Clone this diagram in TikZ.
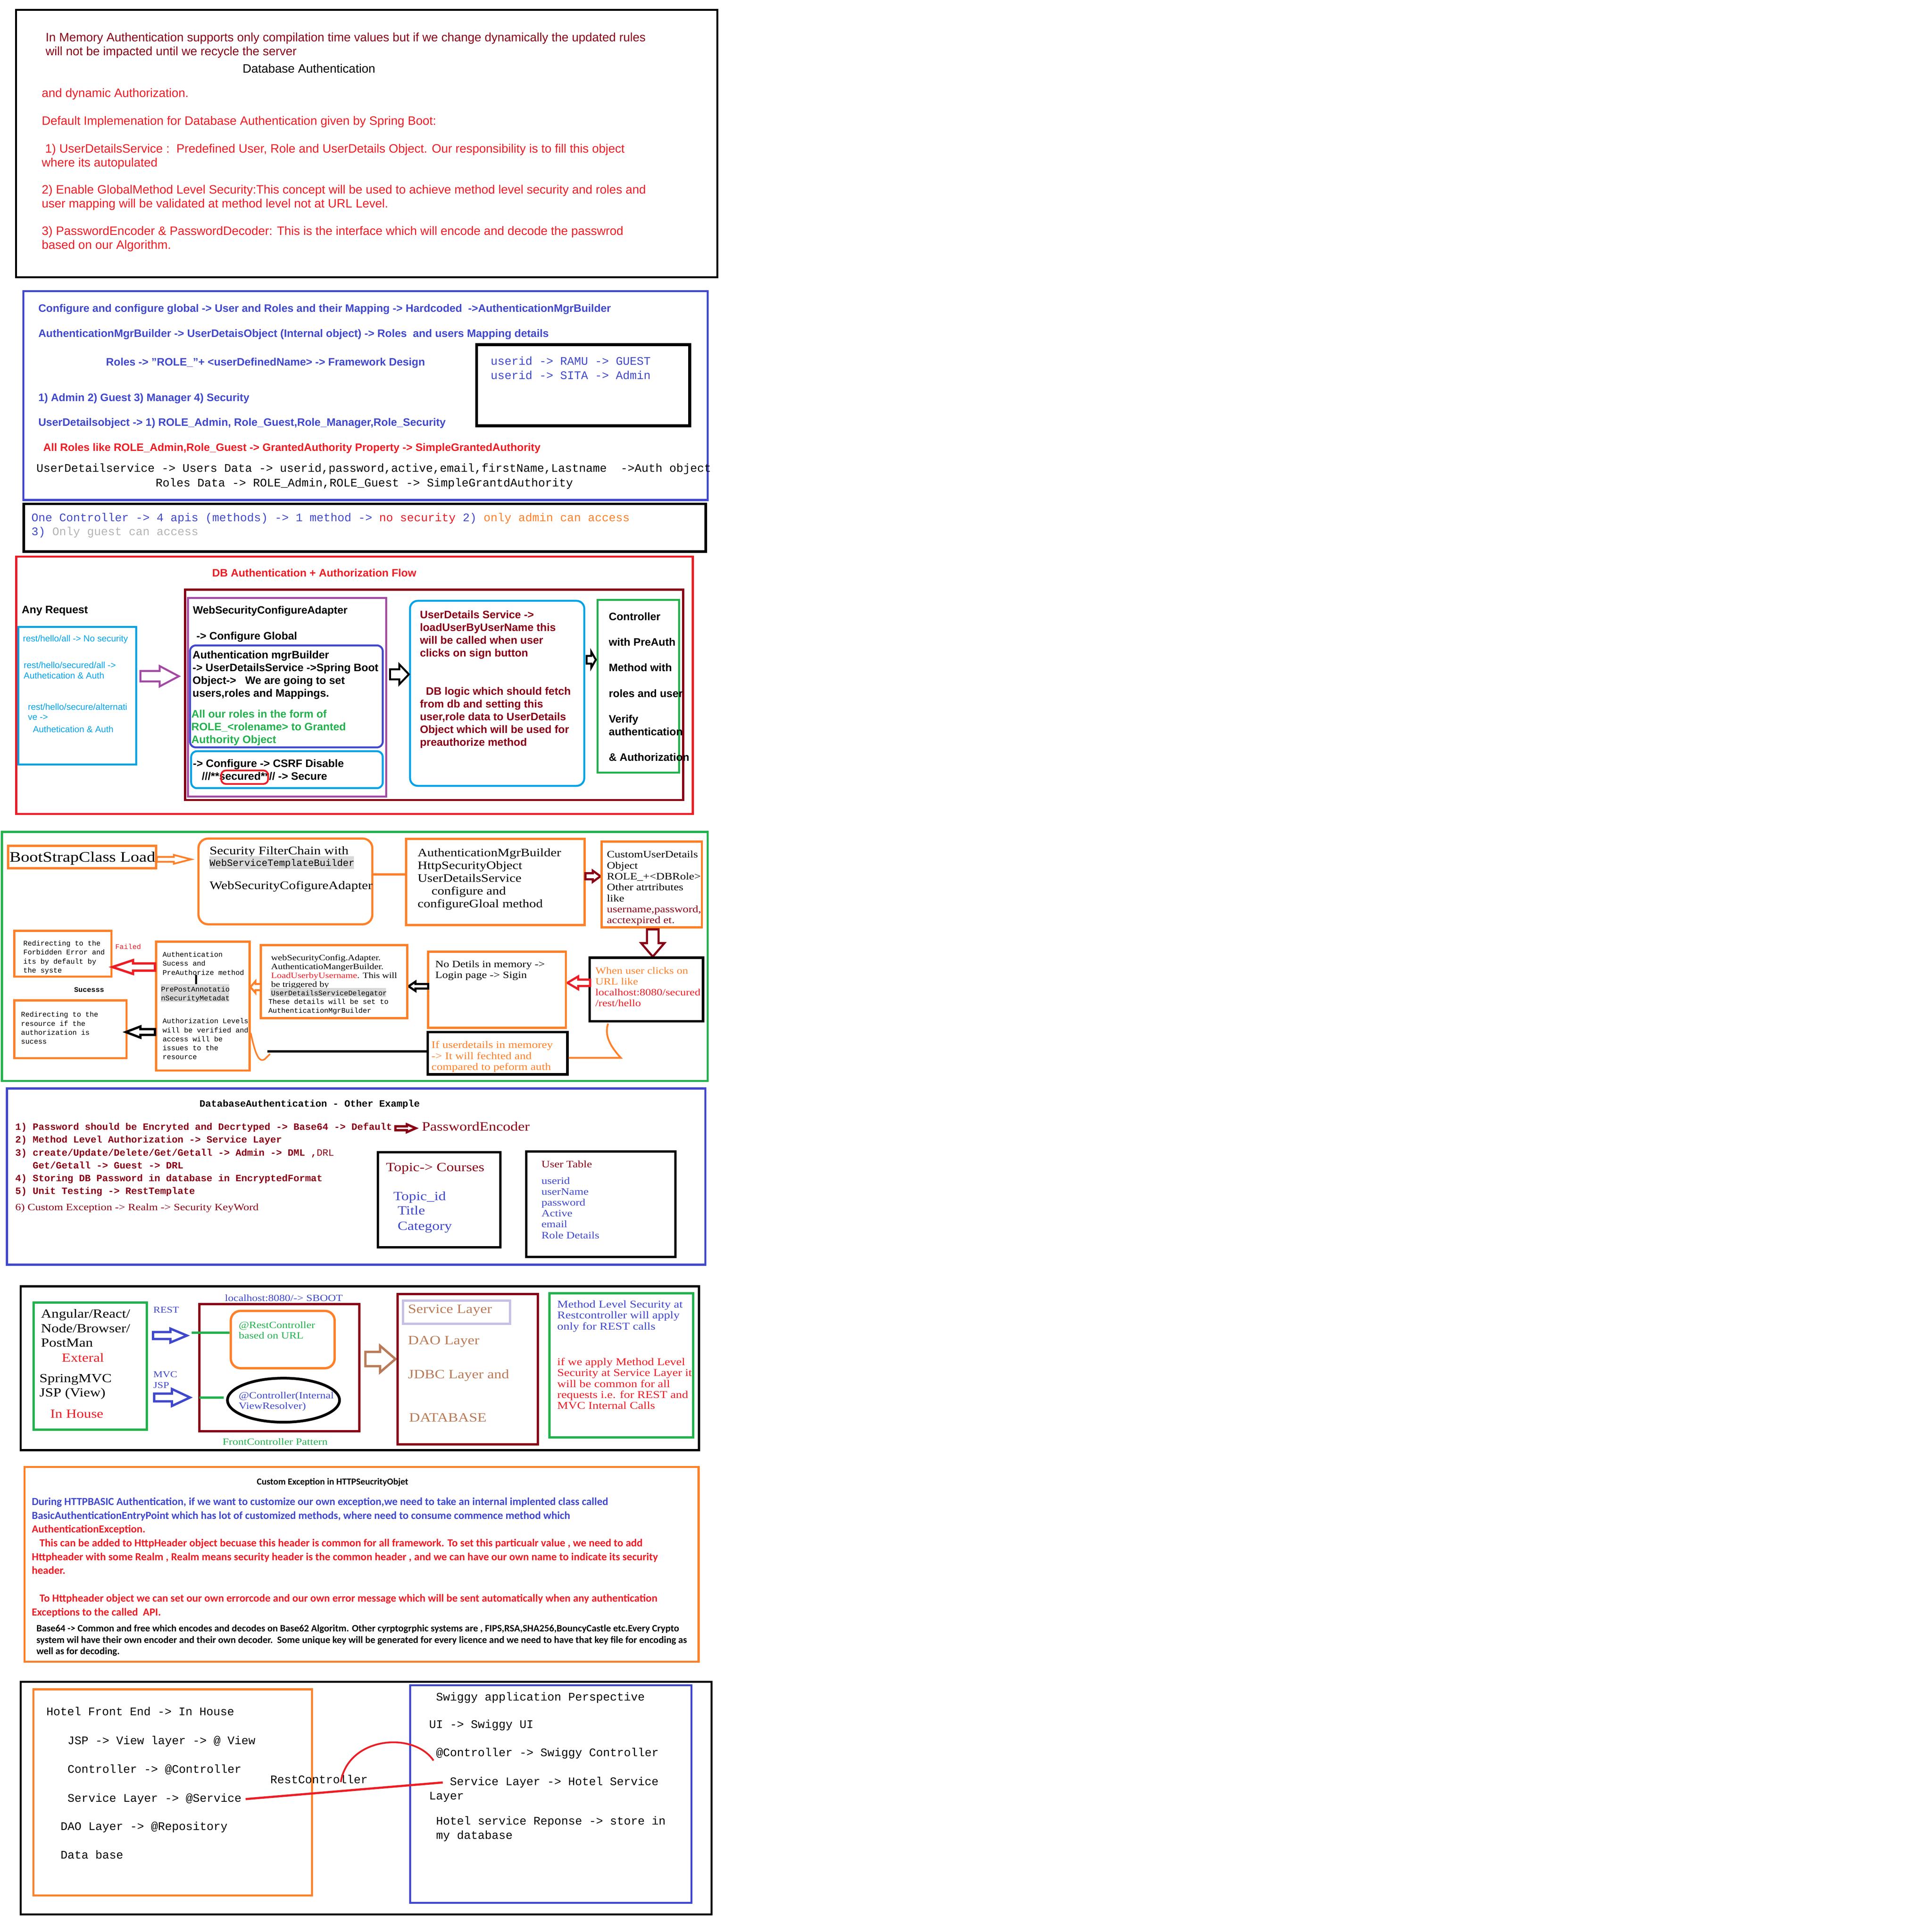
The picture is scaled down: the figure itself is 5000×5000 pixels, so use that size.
\documentclass[tikz,border=0pt]{standalone}
\usepackage{fontspec}
\setmainfont{Liberation Serif}
\setsansfont{Liberation Sans}
\setmonofont{Liberation Mono}
\newfontfamily\srf{Liberation Serif}[FakeStretch=1.18]
\newfontfamily\carl{Carlito}
\usetikzlibrary{fit,shapes.geometric}
\definecolor{cred}{HTML}{ED1C24}
\definecolor{cdred}{HTML}{880015}
\definecolor{cblue}{HTML}{3F48CC}
\definecolor{ccyan}{HTML}{00A2E8}
\definecolor{cgreen}{HTML}{22B14C}
\definecolor{corange}{HTML}{FF7F27}
\definecolor{cpurple}{HTML}{A349A4}
\definecolor{cbrown}{HTML}{B97A57}
\definecolor{clav}{HTML}{C8BFE7}
\definecolor{cgray}{HTML}{B4B4B4}
\definecolor{chl}{HTML}{D9D9D9}
\newcommand\fpx[2]{\fontsize{\fpeval{#1*0.28453}pt}{\fpeval{#2*0.28453}pt}\selectfont\lineskiplimit=-100pt\relax}
\newcommand\mytext[9][]{\node[anchor=north west,align=left,inner sep=0pt,text=#7,font={#8\fpx{#5}{#6}},#1] (#2) at ({#3},{#4+0.32*#5-0.7*#6}) {\strut#9};}
\newcommand\harrow[7][]{\draw[#1] ({#2},{#5-#6}) -- ({#3},{#5-#6}) -- ({#3},{#5-#7}) -- ({#4},{#5}) -- ({#3},{#5+#7}) -- ({#3},{#5+#6}) -- ({#2},{#5+#6}) -- cycle;}
\newcommand\varrow[7][]{\draw[#1] ({#5-#6},{#2}) -- ({#5-#6},{#3}) -- ({#5-#7},{#3}) -- ({#5},{#4}) -- ({#5+#7},{#3}) -- ({#5+#6},{#3}) -- ({#5+#6},{#2}) -- cycle;}
\newcommand\boxat[4][]{\node[fit={#3 #4},inner sep=0pt,#1] (#2) {};}
\begin{document}
\begin{tikzpicture}[x=0.1mm,y=-0.1mm]
\fill[white] (0,0) rectangle (5000,5000);
\begin{scope}[scale=0.9955]
% ===== Section A
\boxat[draw=black,line width=0.5mm]{boxA}{(42,26)}{(1865,721)}
\mytext{a1}{118}{97}{31.5}{36}{cdred}{\sffamily}{In Memory Authentication supports only compilation time values but if we change dynamically the updated rules\\will not be impacted until we recycle the server}
\mytext{a2}{630}{178}{31.5}{36}{black}{\sffamily}{Database Authentication}
\mytext{a3}{108}{242}{31.5}{36}{cred}{\sffamily}{and dynamic Authorization.}
\mytext{a4}{108}{314}{31.5}{36}{cred}{\sffamily}{Default Implemenation for Database Authentication given by Spring Boot:}
\mytext{a5}{108}{386}{31.5}{36}{cred}{\sffamily}{\ 1) UserDetailsService :\ \ Predefined User, Role and UserDetails Object. Our responsibility is to fill this object\\where its autopulated}
\mytext{a6}{108}{493}{31.5}{36}{cred}{\sffamily}{2) Enable GlobalMethod Level Security:This concept will be used to achieve method level security and roles and\\user mapping will be validated at method level not at URL Level.}
\mytext{a7}{108}{600}{31.5}{36}{cred}{\sffamily}{3) PasswordEncoder \& PasswordDecoder: This is the interface which will encode and decode the passwrod\\based on our Algorithm.}
% ===== Section B
\boxat[draw=cblue,line width=0.55mm]{boxB}{(61,757)}{(1840,1300)}
\begin{scope}[yshift=-0.3mm]
\boxat[draw=black,line width=0.75mm]{boxBtwo}{(1239,893)}{(1793,1104)}
\mytext{b1}{99}{798}{28}{33}{cblue}{\sffamily\bfseries}{Configure and configure global -> User and Roles and their Mapping -> Hardcoded\ \ ->AuthenticationMgrBuilder}
\mytext{b2}{99}{864}{28}{33}{cblue}{\sffamily\bfseries}{AuthenticationMgrBuilder -> UserDetaisObject (Internal object) -> Roles\ \ and users Mapping details}
\mytext{b3}{275}{938}{28}{33}{cblue}{\sffamily\bfseries}{Roles -> "ROLE\_"+ <userDefinedName> -> Framework Design}
\mytext{b4}{99}{1030}{28}{33}{cblue}{\sffamily\bfseries}{1) Admin 2) Guest 3) Manager 4) Security}
\mytext{b5}{99}{1095}{28}{33}{cblue}{\sffamily\bfseries}{UserDetailsobject -> 1) ROLE\_Admin, Role\_Guest,Role\_Manager,Role\_Security}
\mytext{b6}{112}{1160}{28}{33}{cred}{\sffamily\bfseries}{All Roles like ROLE\_Admin,Role\_Guest -> GrantedAuthority Property -> SimpleGrantedAuthority}
\mytext{b7}{94}{1214}{30}{37}{black}{\ttfamily}{UserDetailservice -> Users Data -> userid,password,active,email,firstName,Lastname\ \ ->Auth object}
\mytext{b8}{404}{1252}{30}{37}{black}{\ttfamily}{Roles Data -> ROLE\_Admin,ROLE\_Guest -> SimpleGrantdAuthority}
\mytext{b9}{1275}{935}{30}{37}{cblue}{\ttfamily}{userid -> RAMU -> GUEST\\userid -> SITA -> Admin}
\end{scope}
% ===== Section C
\boxat[draw=black,line width=0.65mm]{boxC}{(62,1310)}{(1835,1434)}
\mytext{c1}{81}{1345}{30}{36}{cblue}{\ttfamily}{One Controller -> 4 apis (methods) -> 1 method -> \textcolor{cred}{no security} 2) \textcolor{corange}{only admin can access}\\3) \textcolor{cgray}{Only guest can access}}
% ===== Section D
\boxat[draw=cred,line width=0.55mm]{boxD}{(42,1447)}{(1801,2116)}
\begin{scope}[yshift=-0.6mm]
\boxat[draw=cdred,line width=0.55mm]{boxDtwo}{(481,1527)}{(1776,2074)}
\boxat[draw=cpurple,line width=0.5mm]{boxDthree}{(489,1549)}{(1004,2065)}
\boxat[draw=ccyan,line width=0.5mm]{boxDfour}{(48,1624)}{(354,1981)}
\boxat[draw=cblue,line width=0.5mm,rounded corners=1.5mm]{boxDfive}{(494,1672)}{(995,1937)}
\boxat[draw=ccyan,line width=0.5mm,rounded corners=1.5mm]{boxDsix}{(497,1947)}{(995,2043)}
\boxat[draw=ccyan,line width=0.5mm,rounded corners=2mm]{boxDseven}{(1066,1556)}{(1519,2037)}
\boxat[draw=cgreen,line width=0.5mm]{boxDeight}{(1554,1554)}{(1765,2003)}
\mytext{d1}{551}{1483}{28}{33}{cred}{\sffamily\bfseries}{DB Authentication + Authorization Flow}
\mytext{d2}{56}{1579}{28}{33}{black}{\sffamily\bfseries}{Any Request}
\mytext{d3}{59}{1654}{23}{27}{ccyan}{\sffamily}{rest/hello/all -> No security}
\mytext{d4}{61}{1723}{23}{27}{ccyan}{\sffamily}{rest/hello/secured/all ->\\Authetication \& Auth}
\mytext{d5}{72}{1832}{23}{26}{ccyan}{\sffamily}{rest/hello/secure/alternati\\ve ->}
\mytext{d6}{85}{1890}{23}{27}{ccyan}{\sffamily}{Authetication \& Auth}
\mytext{d7}{501}{1580}{27.5}{33}{black}{\sffamily\bfseries}{WebSecurityConfigureAdapter}
\mytext{d8}{510}{1647}{28}{33}{black}{\sffamily\bfseries}{-> Configure Global}
\mytext{d9}{500}{1696}{28}{33.3}{black}{\sffamily\bfseries}{Authentication mgrBuilder\\-> UserDetailsService ->Spring Boot\\Object->\ \ \ We are going to set\\users,roles and Mappings.}
\mytext{d10}{497}{1850}{28}{33}{cgreen}{\sffamily\bfseries}{All our roles in the form of\\ROLE\_<rolename> to Granted\\Authority Object}
\mytext{d11}{501}{1979}{28}{33}{black}{\sffamily\bfseries}{-> Configure -> CSRF Disable}
\mytext{d12}{524}{2012}{28}{33}{black}{\sffamily\bfseries}{///**secured**// -> Secure}
\boxat[draw=cred,line width=0.45mm,rounded corners=1.2mm]{boxDnine}{(575,1997)}{(697,2032)}
\mytext{d13}{1091}{1592}{28}{33}{cdred}{\sffamily\bfseries}{UserDetails Service ->\\loadUserByUserName this\\will be called when user\\clicks on sign button}
\mytext{d14}{1091}{1791}{28}{33}{cdred}{\sffamily\bfseries}{\ \ DB logic which should fetch\\from db and setting this\\user,role data to UserDetails\\Object which will be used for\\preauthorize method}
\mytext{d15}{1582}{1597}{28}{33.2}{black}{\sffamily\bfseries}{Controller\\[3.3mm]with PreAuth\\[3.3mm]Method with\\[3.3mm]roles and user\\[3.3mm]Verify\\authentication\\[3.3mm]\& Authorization}
\harrow[draw=cpurple,line width=0.5mm,fill=white]{365}{415}{465}{1752}{13.5}{26.5}
\harrow[draw=black,line width=0.5mm,fill=white]{1014}{1038}{1063}{1747}{13}{26}
\harrow[draw=black,line width=0.5mm,fill=white]{1525}{1537}{1549}{1709}{10}{21}
\end{scope}
% ===== Section E
\boxat[draw=cgreen,line width=0.55mm]{boxE}{(5,2163)}{(1840,2810)}
\begin{scope}[yshift=-1mm]
\boxat[draw=corange,line width=0.55mm]{bsb}{(21,2189)}{(406,2247)}
\mytext{e1}{24}{2218}{37.5}{45}{black}{\srf}{BootStrapClass Load}
\harrow[draw=corange,line width=0.45mm,fill=white]{408}{452}{497}{2224}{6.5}{11.5}
\boxat[draw=corange,line width=0.55mm,rounded corners=2.5mm]{fc}{(516,2170)}{(968,2393)}
\mytext{e2}{544}{2201}{30}{36}{black}{\srf}{Security FilterChain with}
\boxat[fill=chl]{hlone}{(544,2216)}{(920,2249)}
\mytext{e3}{544}{2233}{25}{30}{black}{\ttfamily}{WebServiceTemplateBuilder}
\mytext{e4}{544}{2291}{30}{36}{black}{\srf}{WebSecurityCofigureAdapter}
\boxat[draw=corange,line width=0.55mm]{amb}{(1056,2171)}{(1520,2395)}
\draw[corange,line width=0.55mm] (fc.east |- 0,2263) -- (amb.west |- 0,2263);
\mytext{e5}{1085}{2206}{29.5}{33}{black}{\srf}{AuthenticationMgrBuilder\\HttpSecurityObject\\UserDetailsService\\\hspace*{3.6mm}configure and\\configureGloal method}
\harrow[draw=cdred,line width=0.55mm,fill=white]{1522}{1541}{1561}{2268}{8}{14.5}
\boxat[draw=corange,line width=0.55mm]{cud}{(1564,2178)}{(1825,2401)}
\mytext{e6}{1577}{2211}{25.5}{28.3}{black}{\srf}{CustomUserDetails\\Object\\ROLE\_+<DBRole>\\Other atrtributes\\like\\\textcolor{cdred}{username,password,}\\\textcolor{cdred}{acctexpired et.}}
\varrow[draw=cdred,line width=0.55mm,fill=white]{2406}{2442}{2477}{1697}{15}{30}
\boxat[draw=black,line width=0.65mm]{wu}{(1533,2480)}{(1828,2645)}
\mytext{e7}{1547}{2513}{25}{28}{corange}{\srf}{When user clicks on\\URL like\\\textcolor{cred}{localhost:8080/secured}\\\textcolor{cred}{/rest/hello}}
\harrow[draw=cred,line width=0.55mm,fill=white]{1534}{1503}{1475}{2545}{8.5}{16.5}
\boxat[draw=corange,line width=0.55mm]{nd}{(1113,2464)}{(1471,2662)}
\mytext{e8}{1131}{2496}{25}{28}{black}{\srf}{No Detils in memory ->\\Login page -> Sigin}
\harrow[draw=black,line width=0.55mm,fill=white]{1113}{1080}{1062}{2554}{6}{12}
\boxat[draw=corange,line width=0.55mm]{ws}{(678,2447)}{(1059,2637)}
\mytext{e9}{704}{2479}{21}{23}{black}{\srf}{webSecurityConfig.Adapter.\\AuthenticatioMangerBuilder.\\\textcolor{cred}{LoadUserbyUsername}. This will\\be triggered by}
\boxat[fill=chl]{hltwo}{(703,2559)}{(1004,2582)}
\mytext{e10}{704}{2571}{18.5}{23}{black}{\ttfamily}{UserDetailsServiceDelegator}
\mytext{e11}{697}{2594}{18.5}{23}{black}{\ttfamily}{These details will be set to\\AuthenticationMgrBuilder}
\harrow[draw=corange,line width=0.5mm,fill=white]{678}{664}{651}{2556}{8}{15}
\boxat[draw=corange,line width=0.55mm]{au}{(406,2438)}{(649,2773)}
\mytext{e12}{422}{2471}{18.5}{23.3}{black}{\ttfamily}{Authentication\\Sucess and\\PreAuthorize method}
\boxat[fill=chl]{hlthree}{(418,2549)}{(596,2595)}
\mytext{e13}{418}{2561}{18.5}{23.3}{black}{\ttfamily}{PrePostAnnotatio\\nSecurityMetadat}
\mytext{e14}{422}{2644}{18.5}{23.3}{black}{\ttfamily}{Authorization Levels\\will be verified and\\access will be\\issues to the\\resource}
\coordinate (vlone) at (510,2524);
\draw[black,line width=0.45mm] (vlone) -- (vlone |- hlthree.north);
\boxat[draw=corange,line width=0.55mm]{fb}{(37,2410)}{(290,2529)}
\mytext{e15}{60}{2442}{18.5}{23.3}{black}{\ttfamily}{Redirecting to the\\Forbidden Error and\\its by default by\\the syste}
\mytext{e16}{299}{2451}{18.5}{23}{cred}{\ttfamily}{Failed}
\harrow[draw=cred,line width=0.6mm,fill=white]{403}{346}{292}{2504}{9.5}{18}
\mytext{e17}{192}{2562}{18.5}{23}{black}{\ttfamily\bfseries}{Sucesss}
\boxat[draw=corange,line width=0.55mm]{rb}{(37,2591)}{(329,2741)}
\mytext{e18}{54}{2627}{18.5}{23.3}{black}{\ttfamily}{Redirecting to the\\resource if the\\authorization is\\sucess}
\harrow[draw=black,line width=0.6mm,fill=white]{403}{365}{327}{2673}{7.5}{14.5}
\draw[corange,line width=0.4mm] (au.east |- 0,2675) .. controls (662,2722) and (672,2758) .. (690,2742) -- (702,2730);
\boxat[draw=black,line width=0.65mm]{ifb}{(1112,2673)}{(1475,2783)}
\coordinate (bl) at (695,2723);
\draw[black,line width=0.6mm] (bl) -- (bl -| ifb.west);
\mytext{e19}{1121}{2706}{26}{28.3}{corange}{\srf}{If userdetails in memorey\\-> It will fechted and\\compared to peform auth}
\coordinate (cq) at (1581,2651);
\draw[corange,line width=0.45mm] (ifb.east |- 0,2740) -- (1614,2740) .. controls (1588,2712) and (1570,2682) .. (cq);
\end{scope}
% ===== Section F
\boxat[draw=cblue,line width=0.55mm]{boxF}{(18,2830)}{(1834,3288)}
\begin{scope}[yshift=-0.3mm]
\mytext{f1}{518}{2866}{25}{30}{black}{\ttfamily\bfseries}{DatabaseAuthentication - Other Example}
\mytext{f2}{39}{2926}{25}{33.2}{cdred}{\ttfamily\bfseries}{1) Password should be Encryted and Decrtyped -> Base64 -> Default\\2) Method Level Authorization -> Service Layer\\3) create/Update/Delete/Get/Getall -> Admin -> DML ,{\mdseries DRL}\\\ \ \ Get/Getall -> Guest -> DRL\\4) Storing DB Password in database in EncryptedFormat\\5) Unit Testing -> RestTemplate}
\harrow[draw=cdred,line width=0.6mm,fill=white]{1028}{1058}{1081}{2930}{5}{10}
\mytext{f3}{1096}{2925}{33}{38}{cdred}{\srf}{PasswordEncoder}
\mytext{f4}{39}{3135}{25}{30}{cdred}{\srf}{6) Custom Exception -> Realm -> Security KeyWord}
\end{scope}
\begin{scope}[yshift=-0.9mm]
\boxat[draw=black,line width=0.6mm]{tb}{(982,2987)}{(1301,3234)}
\mytext{f5}{1003}{3025}{32.5}{38}{cdred}{\srf}{Topic-> Courses}
\mytext{f6}{1022}{3100}{32.5}{38}{cblue}{\srf}{Topic\_id}
\mytext{f7}{1033}{3137}{32.5}{40}{cblue}{\srf}{Title\\Category}
\boxat[draw=black,line width=0.6mm]{ub}{(1368,2985)}{(1756,3259)}
\mytext{f8}{1407}{3017}{25.5}{30}{cdred}{\srf}{User Table}
\mytext{f9}{1407}{3060}{25.5}{28.2}{cblue}{\srf}{userid\\userName\\password\\Active\\email\\Role Details}
\end{scope}
% ===== Section G
\boxat[draw=black,line width=0.55mm]{boxG}{(54,3344)}{(1817,3770)}
\begin{scope}[yshift=-0.5mm]
\boxat[draw=cgreen,line width=0.6mm]{gb}{(87,3381)}{(382,3712)}
\mytext{g1}{106}{3410}{32}{37.5}{black}{\srf}{Angular/React/\\Node/Browser/\\PostMan}
\mytext{g2}{160}{3524}{32}{37}{cred}{\srf}{Exteral}
\mytext{g3}{102}{3578}{32}{37}{black}{\srf}{SpringMVC\\JSP (View)}
\mytext{g4}{130}{3670}{32}{37}{cred}{\srf}{In House}
\mytext{g5}{398}{3400}{23}{28}{cblue}{\srf}{REST}
\mytext{g6}{398}{3567}{23}{28}{cblue}{\srf}{MVC\\JSP}
\harrow[draw=cblue,line width=0.6mm,fill=white]{398}{443}{486}{3467}{9}{18}
\harrow[draw=cblue,line width=0.6mm,fill=white]{401}{447}{494}{3628}{10}{22}
\mytext{g7}{584}{3369}{24.4}{28}{cblue}{\srf}{localhost:8080/-> SBOOT}
\boxat[draw=cdred,line width=0.6mm]{fcb}{(518,3385)}{(934,3716)}
\boxat[draw=corange,line width=0.6mm,rounded corners=2.5mm]{rc}{(600,3403)}{(870,3552)}
\mytext{g8}{620}{3439}{24.6}{27}{cgreen}{\srf}{@RestController\\based on URL}
\node[ellipse,draw=black,line width=0.7mm,minimum width=29mm,minimum height=11.4mm,inner sep=0pt] (ell) at (737,3635) {};
\mytext{g9}{620}{3622}{24.6}{27}{cblue}{\srf}{@Controller(Internal\\ViewResolver)}
\coordinate (glone) at (498,3460);
\draw[cgreen,line width=0.6mm] (glone) -- (glone -| rc.west);
\coordinate (gltwo) at (518,3628);
\draw[cgreen,line width=0.6mm] (gltwo) -- ++(64,0);
\mytext{g10}{578}{3743}{24.6}{28}{cgreen}{\srf}{FrontController Pattern}
\harrow[draw=cbrown,line width=0.6mm,fill=white]{950}{988}{1028}{3528}{18.5}{34.5}
\boxat[draw=cdred,line width=0.6mm]{sl}{(1034,3359)}{(1398,3750)}
\boxat[draw=clav,line width=0.6mm]{lav}{(1048,3376)}{(1326,3437)}
\mytext{g11}{1060}{3397}{33}{38}{cbrown}{\srf}{Service Layer}
\mytext{g12}{1060}{3479}{33}{38}{cbrown}{\srf}{DAO Layer}
\mytext{g13}{1060}{3567}{33}{38}{cbrown}{\srf}{JDBC Layer and}
\mytext{g14}{1063}{3680}{33}{38}{cbrown}{\srf}{DATABASE}
\boxat[draw=cgreen,line width=0.6mm]{mb}{(1428,3357)}{(1802,3732)}
\mytext{g15}{1448}{3385}{27}{28.5}{cblue}{\srf}{Method Level Security at\\Restcontroller will apply\\only for REST calls}
\mytext{g16}{1448}{3535}{27}{28.3}{cred}{\srf}{if we apply Method Level\\Security at Service Layer it\\will be common for all\\requests i.e. for REST and\\MVC Internal Calls}
\end{scope}
% ===== Section H
\boxat[draw=corange,line width=0.55mm]{boxH}{(64,3814)}{(1816,4320)}
\mytext{h1}{667}{3851}{23.8}{27}{black}{\carl\bfseries}{Custom Exception in HTTPSeucrityObjet}
\mytext{h2}{82}{3903}{28}{36}{cblue}{\carl\bfseries}{During HTTPBASIC Authentication, if we want to customize our own exception,we need to take an internal implented class called\\BasicAuthenticationEntryPoint which has lot of customized methods, where need to consume commence method which}
\mytext{h3}{82}{3975}{28}{35.7}{cred}{\carl\bfseries}{AuthenticationException.\\\hspace*{2mm}This can be added to HttpHeader object becuase this header is common for all framework. To set this particualr value , we need to add\\Httpheader with some Realm , Realm means security header is the common header , and we can have our own name to indicate its security\\header.\\[3.57mm]\hspace*{2mm}To Httpheader object we can set our own errorcode and our own error message which will be sent automatically when any authentication\\Exceptions to the called\ \ API.}
\mytext{h4}{94}{4233}{25.2}{29.5}{black}{\carl\bfseries}{Base64 -> Common and free which encodes and decodes on Base62 Algoritm. Other cyrptogrphic systems are , FIPS,RSA,SHA256,BouncyCastle etc.Every Crypto\\system wil have their own encoder and their own decoder.\ \ Some unique key will be generated for every licence and we need to have that key file for encoding as\\well as for decoding.}
% ===== Section I
\boxat[draw=black,line width=0.5mm]{boxI}{(54,4372)}{(1850,4977)}
\boxat[draw=corange,line width=0.55mm]{ob}{(87,4392)}{(811,4928)}
\boxat[draw=cblue,line width=0.5mm]{bb}{(1066,4381)}{(1798,4947)}
\mytext{i1}{120}{4449}{30}{36}{black}{\ttfamily}{Hotel Front End -> In House}
\mytext{i2}{175}{4524}{30}{36}{black}{\ttfamily}{JSP -> View layer -> @ View}
\mytext{i3}{175}{4599}{30}{36}{black}{\ttfamily}{Controller -> @Controller}
\mytext{i4}{175}{4674}{30}{36}{black}{\ttfamily}{Service Layer -> @Service}
\mytext{i5}{157}{4747}{30}{36}{black}{\ttfamily}{DAO Layer -> @Repository}
\mytext{i6}{157}{4822}{30}{36}{black}{\ttfamily}{Data base}
\mytext{i7}{702}{4626}{30}{36}{black}{\ttfamily}{RestController}
\mytext{i8}{1133}{4411}{30}{36}{black}{\ttfamily}{Swiggy application Perspective}
\mytext{i9}{1115}{4482}{30}{36}{black}{\ttfamily}{UI -> Swiggy UI}
\mytext{i10}{1133}{4556}{30}{36}{black}{\ttfamily}{@Controller -> Swiggy Controller}
\mytext{i11}{1169}{4631}{30}{37}{black}{\ttfamily}{Service Layer -> Hotel Service}
\mytext{i12}{1115}{4668}{30}{36}{black}{\ttfamily}{Layer}
\mytext{i13}{1133}{4733}{30}{37}{black}{\ttfamily}{Hotel service Reponse -> store in\\my database}
\draw[cred,line width=0.55mm] ([xshift=1mm]i4.east) -- ([xshift=-1.8mm]i11.west);
\coordinate (rcone) at (886,4633);
\coordinate (rctwo) at (1127,4577);
\draw[cred,line width=0.45mm] (rcone) .. controls (905,4515) and (1075,4500) .. (rctwo);
\end{scope}
\end{tikzpicture}
\end{document}
